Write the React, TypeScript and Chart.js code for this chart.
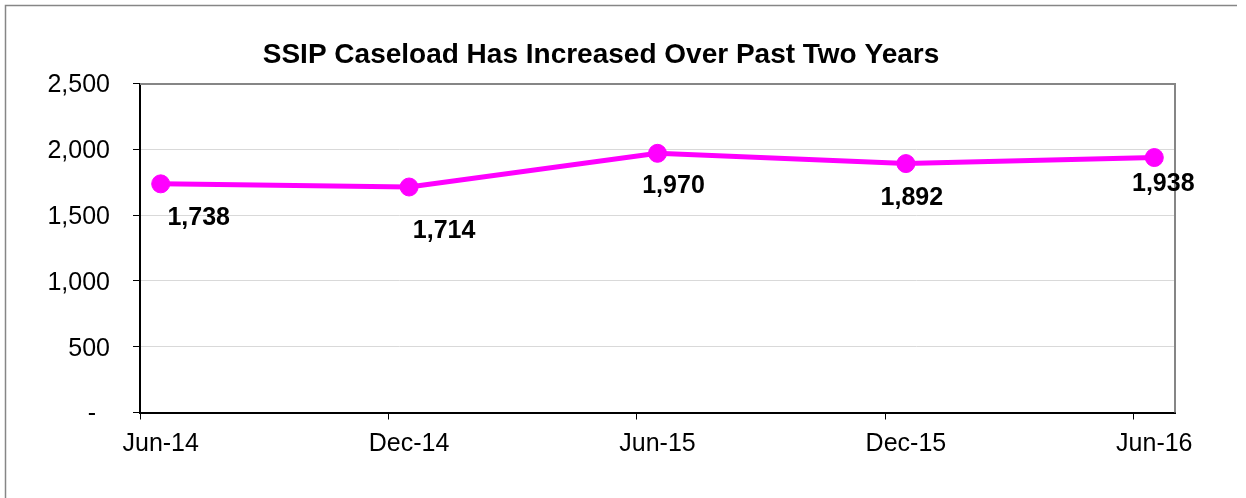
import React, { useEffect, useRef } from "react";
import { Chart, registerables } from "chart.js";

Chart.register(...registerables);

// ---- data ----
const categories = ["Jun-14", "Dec-14", "Jun-15", "Dec-15", "Jun-16"];
// month position of each category on the date axis (months since Jun-14)
const monthIndex = [0, 6, 12, 18, 24];
const caseload = [1738, 1714, 1970, 1892, 1938];
const yTickValues = [0, 500, 1000, 1500, 2000, 2500];
const titleText = "SSIP Caseload Has Increased Over Past Two Years";

// ---- style constants ----
const FONT = '"Liberation Sans", Arial, Helvetica, sans-serif';
const MAGENTA = "#FF00FF";
const labelOffsets: [number, number][] = [
  [38, 34],
  [35, 44],
  [16, 33],
  [6, 35],
  [9, 27],
];

const fmt = (v: number) => (v === 0 ? "-  " : v.toLocaleString("en-US"));

const framePlugin = {
  id: "frame",
  beforeDraw(chart: any) {
    const ctx = chart.ctx;
    ctx.save();
    ctx.fillStyle = "#ffffff";
    ctx.fillRect(0, 0, chart.width, chart.height);
    ctx.strokeStyle = "#868686";
    ctx.lineWidth = 1.5;
    ctx.beginPath();
    ctx.moveTo(5.5, chart.height);
    ctx.lineTo(5.5, 5.5);
    ctx.lineTo(1237, 5.5);
    ctx.stroke();
    ctx.restore();
  },
  beforeDatasetsDraw(chart: any) {
    const { ctx, chartArea } = chart;
    ctx.save();
    ctx.strokeStyle = "#868686";
    ctx.lineWidth = 2;
    ctx.beginPath();
    ctx.moveTo(chartArea.left, Math.round(chartArea.top));
    ctx.lineTo(Math.round(chartArea.right), Math.round(chartArea.top));
    ctx.lineTo(Math.round(chartArea.right), chartArea.bottom);
    ctx.stroke();
    ctx.restore();
  },
};

const dataLabelPlugin = {
  id: "dataLabels",
  afterDatasetsDraw(chart: any) {
    const ctx = chart.ctx;
    const meta = chart.getDatasetMeta(0);
    ctx.save();
    ctx.font = `bold 25px ${FONT}`;
    ctx.fillStyle = "#000000";
    ctx.textAlign = "center";
    ctx.textBaseline = "middle";
    meta.data.forEach((pt: any, i: number) => {
      const [dx, dy] = labelOffsets[i];
      ctx.fillText(caseload[i].toLocaleString("en-US"), pt.x + dx, pt.y + dy);
    });
    ctx.restore();
  },
};

export default function App() {
  const ref = useRef<HTMLCanvasElement | null>(null);

  useEffect(() => {
    if (!ref.current) return;
    const chart = new Chart(ref.current, {
      type: "line",
      data: {
        datasets: [
          {
            label: "SSIP Caseload",
            data: caseload.map((v, i) => ({ x: monthIndex[i] + 0.5, y: v })),
            borderColor: MAGENTA,
            backgroundColor: MAGENTA,
            borderWidth: 5,
            pointRadius: 9,
            pointBackgroundColor: MAGENTA,
            pointBorderColor: MAGENTA,
            pointBorderWidth: 1,
            tension: 0,
            fill: false,
          },
        ],
      },
      options: {
        responsive: false,
        animation: false,
        devicePixelRatio: 1,
        layout: { padding: { left: 27, right: 71, top: 0, bottom: 0 } },
        plugins: {
          legend: { display: false },
          tooltip: { enabled: false },
          title: {
            display: true,
            text: titleText,
            color: "#000000",
            font: { family: FONT, size: 28, weight: "bold", lineHeight: 1.2 },
            padding: { top: 38, bottom: 12 },
          },
        },
        scales: {
          x: {
            type: "linear",
            min: 0,
            max: 25,
            afterBuildTicks: (scale: any) => {
              scale.ticks = monthIndex.map((m) => ({ value: m }));
            },
            afterFit: (scale: any) => {
              scale.height = 85.5;
            },
            ticks: {
              callback: (v: any) => {
                const idx = monthIndex.indexOf(Number(v));
                return idx >= 0 ? categories[idx] : "";
              },
              labelOffset: 20.7,
              padding: 10,
              color: "#000000",
              font: { family: FONT, size: 25 },
              maxRotation: 0,
              autoSkip: false,
            },
            grid: {
              drawOnChartArea: false,
              drawTicks: true,
              tickLength: 7,
              tickColor: "#000000",
              tickWidth: 1,
            },
            border: { display: true, color: "#000000", width: 2 },
          },
          y: {
            min: 0,
            max: 2500,
            afterBuildTicks: (scale: any) => {
              scale.ticks = yTickValues.map((v) => ({ value: v }));
            },
            afterFit: (scale: any) => {
              scale.width = 113;
            },
            ticks: {
              callback: (v: any) => fmt(Number(v)),
              padding: 23,
              labelOffset: 2,
              color: "#000000",
              font: { family: FONT, size: 25 },
            },
            grid: {
              color: "#d9d9d9",
              lineWidth: 1,
              drawTicks: true,
              tickLength: 7,
              tickColor: "#000000",
              tickWidth: 1,
            },
            border: { display: true, color: "#000000", width: 2 },
          },
        },
      },
      plugins: [framePlugin, dataLabelPlugin],
    } as any);
    return () => chart.destroy();
  }, []);

  return (
    <div style={{ position: "fixed", left: 0, top: 0, width: 1246, height: 498, background: "#fff" }}>
      <canvas ref={ref} width={1246} height={498} style={{ display: "block", width: 1246, height: 498 }} />
    </div>
  );
}
